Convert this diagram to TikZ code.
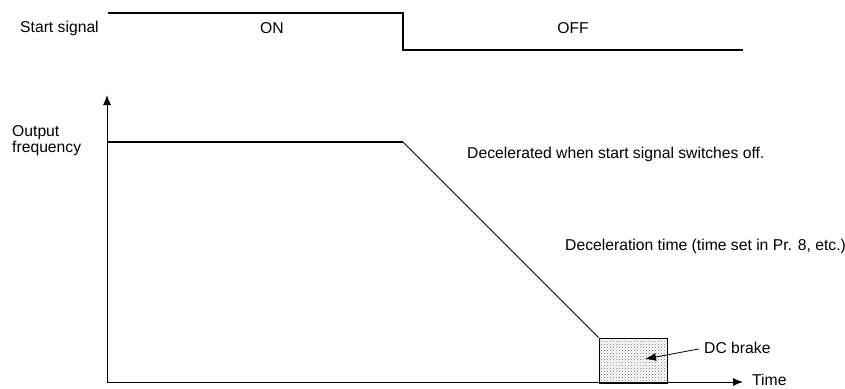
\documentclass[tikz,border=0pt]{standalone}
\usepackage{fontspec}
\setmainfont{Liberation Sans}
\usetikzlibrary{arrows.meta,positioning,patterns}
\tikzset{
  lbl/.style={font=\fontsize{15.7}{16}\selectfont,inner sep=0pt},
  sigline/.style={line width=1.6pt},
  levline/.style={line width=2pt},
  axis/.style={-{Latex[length=10pt,width=8pt]},line width=1pt},
  brakebox/.style={draw,line width=1pt,pattern=crosshatch dots,pattern color=black!55,
    minimum width=68pt,minimum height=45pt,inner sep=0pt},
  pointer/.style={-{Latex[length=11pt,width=8pt]},line width=0.8pt},
}
\begin{document}
\begin{tikzpicture}[x=1pt,y=-1pt]
\useasboundingbox (0,0) rectangle (845,388);
% start signal
\node[lbl,anchor=west] (sig) at (20,28) {Start signal};
\coordinate (s0) at (108,13);
\coordinate (s1) at (403,13);
\coordinate (s2) at (403,50);
\coordinate (s3) at (743,50);
\draw[sigline] (s0) -- (s1) -- (s2) -- (s3);
\node[lbl] (on) at (272,28) {ON};
\node[lbl] (off) at (573,28) {OFF};
% axes
\coordinate (O) at (107,382);
\coordinate (ytop) at (107,95);
\coordinate (xend) at (743,382);
\draw[axis] (O) -- (ytop);
\draw[axis] (O) -- (xend);
\node[lbl,anchor=west] (time) at (752,380) {Time};
\node[lbl,anchor=west,align=left] (outf) at (12,141) {Output\\frequency};
% output frequency
\coordinate (f0) at (107,142);
\coordinate (f1) at (403,142);
\node[brakebox] (brake) at (633,360.5) {};
\draw[levline] (f0) -- (f1);
\draw[line width=1pt] (f1) -- (brake.north west);
\node[lbl,anchor=west] (decel) at (467,154) {Decelerated when start signal switches off.};
\node[lbl,anchor=west] (dtime) at (565,246) {Deceleration time (time set in Pr. 8, etc.)};
% DC brake
\node[lbl,anchor=west] (dclbl) at (704,348) {DC brake};
\coordinate (bp) at (645,359);
\draw[pointer,shorten <=5pt] (dclbl.west) -- (bp);
\end{tikzpicture}
\end{document}
